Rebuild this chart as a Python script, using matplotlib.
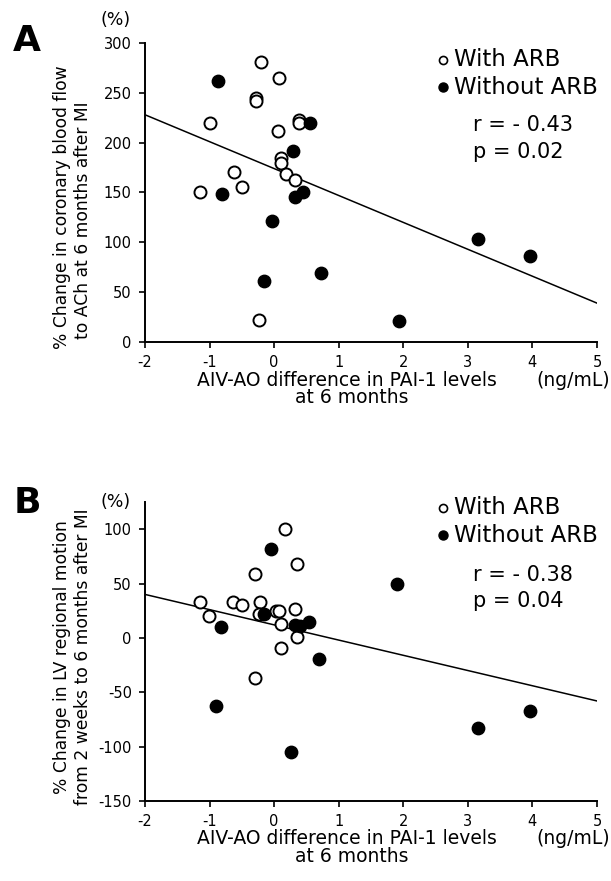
import matplotlib
matplotlib.use("Agg")
import matplotlib.pyplot as plt

plt.rcParams['font.family'] = ['DejaVu Sans']
plt.rcParams['axes.unicode_minus'] = False

# ---------------- data ----------------
x_ticks = [-2, -1, 0, 1, 2, 3, 4, 5]

# Panel A: % change in coronary blood flow to ACh
A_open_x = [-0.21, 0.08, -0.28, -0.28, -1.00, 0.38, 0.38, 0.06, 0.10, 0.10, -0.62, 0.18, 0.33, -0.50, -1.15, -0.23]
A_open_y = [281, 265, 245, 242, 220, 223, 220, 212, 185, 180, 171, 169, 163, 156, 150, 22]
A_fill_x = [-0.87, 0.56, 0.29, -0.80, 0.33, 0.44, -0.03, -0.16, 0.72, 1.93, 3.16, 3.96]
A_fill_y = [262, 220, 192, 148, 145, 151, 121, 61, 69, 21, 103, 86]
A_fit_x = [-2, 5]
A_fit_y = [228, 39]
A_yticks = [0, 50, 100, 150, 200, 250, 300]
A_ylim = (0, 300)
A_stats = ["r = - 0.43", "p = 0.02"]

# Panel B: % change in LV regional motion
B_open_x = [0.17, 0.36, -0.29, -1.15, -0.63, -0.50, -0.22, -1.01, -0.24, 0.03, 0.08, 0.32, 0.10, 0.36, 0.10, -0.29]
B_open_y = [100, 68, 59, 33, 33, 30, 33, 20, 22, 25, 25, 27, 13, 1, -9, -37]
B_fill_x = [-0.05, 1.90, -0.16, -0.82, 0.32, 0.40, 0.54, 0.70, -0.90, 0.26, 3.16, 3.96]
B_fill_y = [82, 50, 22, 10, 12, 11, 15, -19, -63, -105, -83, -67]
B_fit_x = [-2, 5]
B_fit_y = [40, -58]
B_yticks = [-150, -100, -50, 0, 50, 100]
B_ylim = (-150, 125)
B_stats = ["r = - 0.38", "p = 0.04"]

legend_labels = ["With ARB", "Without ARB"]
x_label_1 = "AIV-AO difference in PAI-1 levels"
x_label_2 = "at 6 months"
x_unit = "(ng/mL)"
A_ylabel = ["% Change in coronary blood flow", "to ACh at 6 months after MI"]
B_ylabel = ["% Change in LV regional motion", "from 2 weeks to 6 months after MI"]

# ---------------- figure ----------------
W, H = 611, 881
fig = plt.figure(figsize=(W / 100, H / 100), dpi=100)


def fx(px):
    return px / W


def fy(py):
    return 1 - py / H


def panel(top_px, bottom_px, ox, oy, fx_, fy_, fitx, fity, yticks, ylim,
          letter, ylab, ylab_centers, stats, leg_y, stat_y, letter_y, pct_y):
    ax = fig.add_axes([fx(145), fy(bottom_px), (597 - 145) / W, (bottom_px - top_px) / H])
    ax.plot(fitx, fity, color='black', lw=1.1, zorder=2)
    ax.scatter(ox, oy, s=75, facecolors='white', edgecolors='black', linewidths=1.4, zorder=3)
    ax.scatter(fx_, fy_, s=80, facecolors='black', edgecolors='black', linewidths=1.0, zorder=4)
    ax.set_xlim(-2, 5)
    ax.set_ylim(*ylim)
    ax.set_xticks(x_ticks)
    ax.set_yticks(yticks)
    for s in ['top', 'right']:
        ax.spines[s].set_visible(False)
    for s in ['left', 'bottom']:
        ax.spines[s].set_linewidth(1.4)
    ax.tick_params(direction='out', length=4, width=1.2, labelsize=10.5, pad=5.5)

    # x labels
    fig.text(fx(347), fy(bottom_px + 38), x_label_1, ha='center', va='center', fontsize=13.5)
    fig.text(fx(352), fy(bottom_px + 56), x_label_2, ha='center', va='center', fontsize=13.5)
    fig.text(fx(573), fy(bottom_px + 38), x_unit, ha='center', va='center', fontsize=13.5)

    # y labels (two lines)
    fig.text(fx(62), fy(ylab_centers[0]), ylab[0], rotation=90, ha='center', va='center', fontsize=12.3)
    fig.text(fx(83), fy(ylab_centers[1]), ylab[1], rotation=90, ha='center', va='center', fontsize=12.3)

    # (%) and panel letter
    fig.text(fx(116), fy(pct_y), "(%)", ha='center', va='center', fontsize=12.5)
    fig.text(fx(27), fy(letter_y), letter, ha='center', va='center', fontsize=26, fontweight='bold')

    # legend
    fig.lines.append(plt.Line2D([fx(443)], [fy(leg_y[0])], transform=fig.transFigure, marker='o',
                                markersize=5.8, markerfacecolor='white', markeredgecolor='black',
                                markeredgewidth=1.2, linestyle='none'))
    fig.lines.append(plt.Line2D([fx(443)], [fy(leg_y[1])], transform=fig.transFigure, marker='o',
                                markersize=6.5, markerfacecolor='black', markeredgecolor='black',
                                linestyle='none'))
    fig.text(fx(454), fy(leg_y[0]), legend_labels[0], ha='left', va='center', fontsize=16.5)
    fig.text(fx(454), fy(leg_y[1]), legend_labels[1], ha='left', va='center', fontsize=16.5)
    fig.text(fx(473), fy(stat_y[0]), stats[0], ha='left', va='center', fontsize=15)
    fig.text(fx(473), fy(stat_y[1]), stats[1], ha='left', va='center', fontsize=15)
    return ax


panel(43, 342, A_open_x, A_open_y, A_fill_x, A_fill_y, A_fit_x, A_fit_y, A_yticks, A_ylim,
      "A", A_ylabel, (207, 220), A_stats, (60, 87), (125, 152), 41, 20)
panel(502, 801, B_open_x, B_open_y, B_fill_x, B_fill_y, B_fit_x, B_fit_y, B_yticks, B_ylim,
      "B", B_ylabel, (657, 657), B_stats, (508, 535), (575, 601), 503, 502)

fig.savefig("out.png", dpi=100)
